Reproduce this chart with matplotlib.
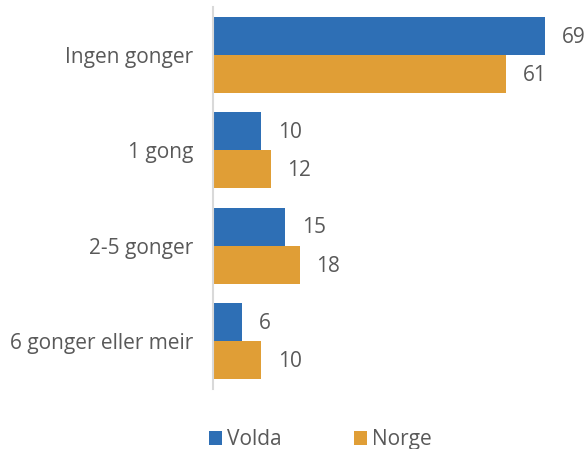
import matplotlib
matplotlib.use("Agg")
import matplotlib.pyplot as plt
import numpy as np

categories = ["Ingen gonger", "1 gong", "2-5 gonger", "6 gonger eller meir"]
volda = [69, 10, 15, 6]
norge = [61, 12, 18, 10]
series_names = ["Volda", "Norge"]

plt.rcParams['font.family'] = ['Open Sans', 'DejaVu Sans']
blue = "#2E6FB5"
orange = "#E09E36"
txt = "#595959"
fs = 15

fig = plt.figure(figsize=(5.88, 4.49), dpi=100)
ax = fig.add_axes([213/588, 1-388.5/449, 347/588, 381/449])

y = np.arange(len(categories))
h = 0.4
b1 = ax.barh(y - h/2, volda, height=h, color=blue, label=series_names[0])
b2 = ax.barh(y + h/2, norge, height=h, color=orange, label=series_names[1])

for bars, vals in ((b1, volda), (b2, norge)):
    for rect, v in zip(bars, vals):
        ax.annotate(str(v), (v, rect.get_y() + rect.get_height()/2),
                    xytext=(12, -1), textcoords="offset points",
                    va="center", ha="left", fontsize=fs, color=txt)

ax.set_xlim(0, 347/4.81)
ax.set_ylim(len(categories) - 0.5, -0.5)
ax.set_yticks(y)
ax.set_yticklabels(categories, fontsize=fs, color=txt)
ax.tick_params(axis="y", length=0, pad=14)
ax.set_xticks([])
for s in ("top", "right", "bottom"):
    ax.spines[s].set_visible(False)
ax.spines["left"].set_color("#d9d9d9")
ax.spines["left"].set_linewidth(1.5)

fig.legend(handles=[b1, b2], labels=series_names, loc="lower center",
           bbox_to_anchor=(0.545, -0.045), ncol=2, frameon=False,
           fontsize=fs, labelcolor=txt, handlelength=0.6, handleheight=0.6,
           handletextpad=0.25, columnspacing=3.5)

fig.savefig("out.png", dpi=100)
